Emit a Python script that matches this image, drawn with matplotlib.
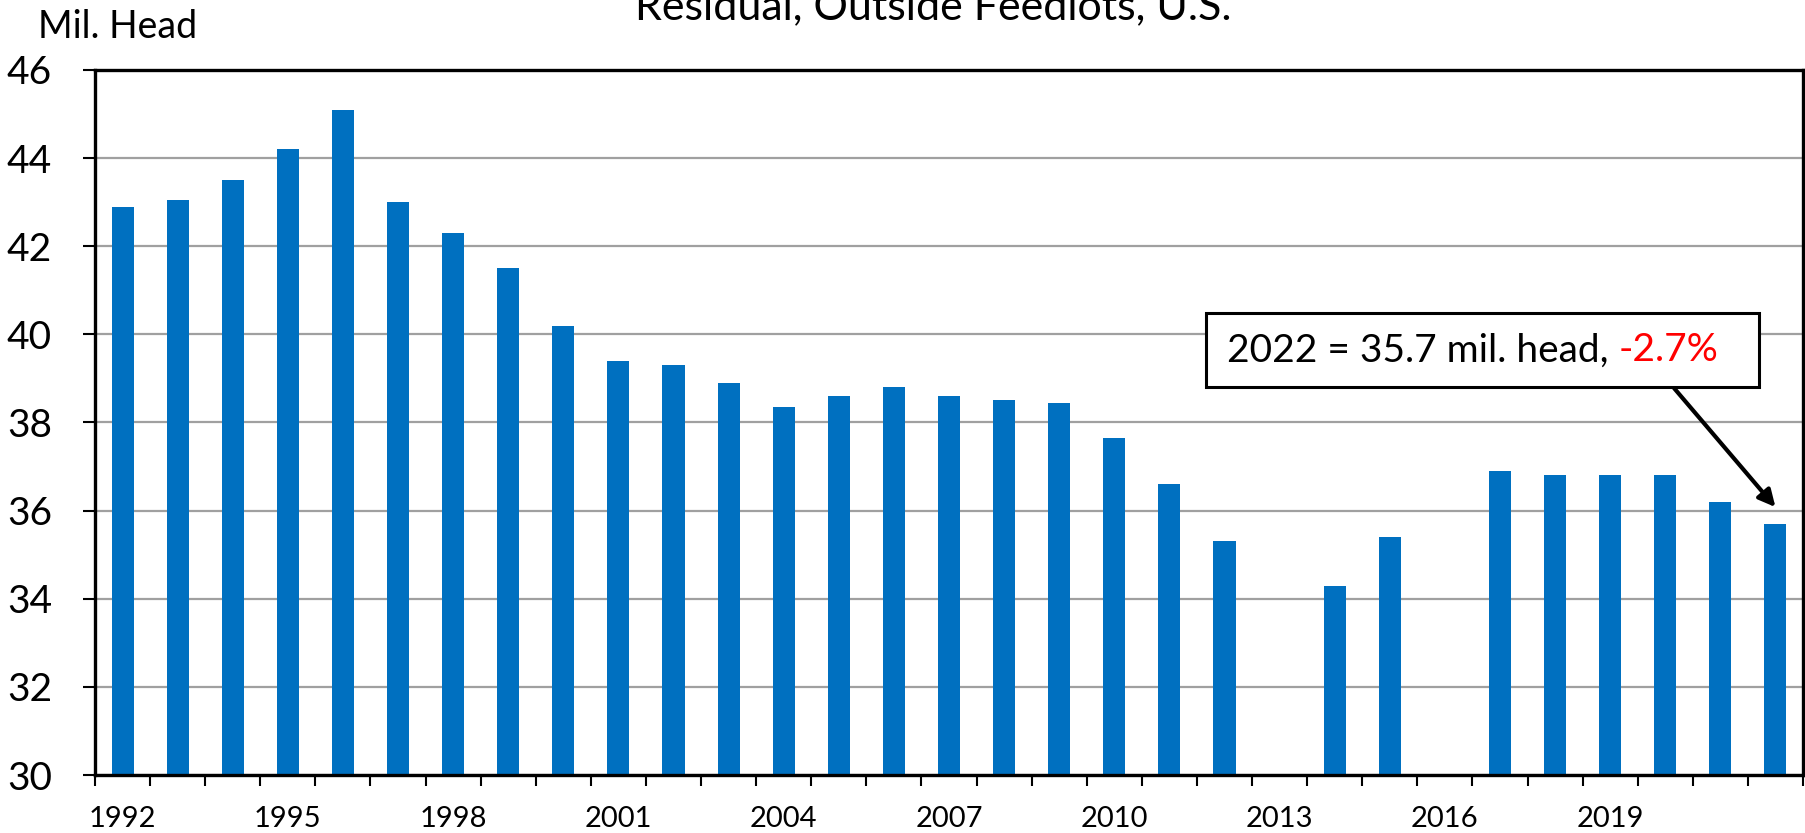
import numpy as np
import matplotlib
matplotlib.use("Agg")
import matplotlib.pyplot as plt
from matplotlib.patches import Rectangle
from matplotlib.transforms import Bbox, IdentityTransform

plt.rcParams['font.family'] = ['Lato', 'DejaVu Sans']

years = list(range(1992, 2023))
# mil. head; 2013 and 2016 fall below the axis floor (not visible)
values = [42.9, 43.05, 43.5, 44.2, 45.1, 43.0, 42.3, 41.5, 40.2, 39.4,
          39.3, 38.9, 38.35, 38.6, 38.8, 38.6, 38.5, 38.45, 37.65, 36.6,
          35.3, np.nan, 34.3, 35.4, np.nan, 36.9, 36.8, 36.8, 36.8, 36.2,
          35.7]
label_years = years[::3][:10]

title = "Residual, Outside Feedlots, U.S."
unit_label = "Mil. Head"
note_main = "2022 = 35.7 mil. head, "
note_change = "-2.7%"

bar_color = "#0070C0"


def plot():
    fig = plt.figure(figsize=(18.06, 8.33), dpi=100)
    ax = fig.add_axes([95 / 1806, 1 - 775 / 833, 1708 / 1806, 705 / 833])

    x = np.arange(len(years))
    ax.bar(x, values, width=0.4, color=bar_color, zorder=2)

    ax.set_xlim(-0.5, len(years) - 0.5)
    ax.set_ylim(30, 46)
    ax.set_yticks(np.arange(30, 47, 2))
    ax.yaxis.grid(True, color="#A0A0A0", linewidth=1.6, zorder=0)
    ax.set_axisbelow(True)

    ax.set_xticks([years.index(y) for y in label_years])
    ax.set_xticklabels([str(y) for y in label_years])
    ax.set_xticks(np.arange(-0.5, len(years), 1), minor=True)
    ax.tick_params(axis="x", which="major", length=0, pad=22, labelsize=21)
    ax.tick_params(axis="x", which="minor", length=8, width=1.5, direction="out")
    ax.tick_params(axis="y", length=9, width=1.5, pad=22, labelsize=28)

    for s in ax.spines.values():
        s.set_linewidth(2.4)
        s.set_color("black")

    fig.text(933 / 1806, 1 - 19 / 833, title, ha="center", va="baseline",
             fontsize=31)
    fig.text(38 / 1806, 1 - 38 / 833, unit_label, ha="left", va="baseline",
             fontsize=27)

    # annotation: black text + red change, framed box
    i22 = years.index(2022)
    bx, by = i22 - 9.95, 39.64
    t1 = ax.text(bx, by, note_main, fontsize=28, color="black",
                 ha="left", va="center", zorder=6)
    t2 = ax.annotate(note_change, xy=(1, 0), xycoords=t1, fontsize=28,
                     color="#FF0000", ha="left", va="bottom", zorder=6)

    fig.canvas.draw()
    r = fig.canvas.get_renderer()
    bb = Bbox.union([t1.get_window_extent(r), t2.get_window_extent(r)])
    cy = (bb.y0 + bb.y1) / 2
    box = Rectangle((bb.x0 - 21, cy - 37), bb.width + 61, 74,
                    transform=IdentityTransform(), facecolor="white",
                    edgecolor="black", linewidth=2.2, zorder=5)
    ax.add_artist(box)

    ax.annotate("", xy=(i22, 36.08), xytext=(i22 - 1.84, 38.78),
                arrowprops=dict(arrowstyle="-|>", color="black", lw=3,
                                mutation_scale=25, shrinkA=0, shrinkB=0),
                zorder=4)

    fig.savefig("out.png", dpi=100)


if __name__ == '__main__':
    plot()
